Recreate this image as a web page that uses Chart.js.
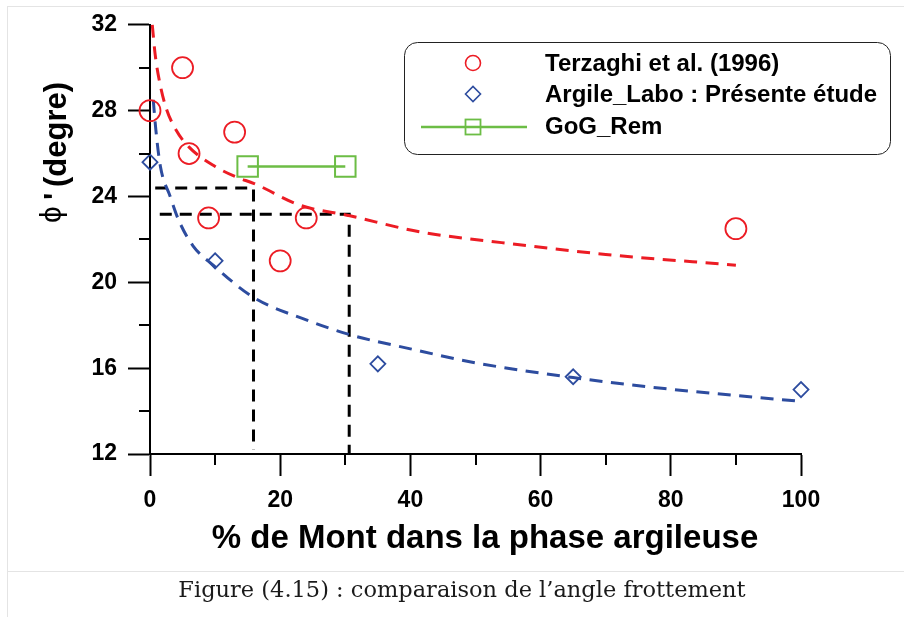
<!DOCTYPE html>
<html>
<head>
<meta charset="utf-8">
<title>Angle de frottement</title>
<script src="https://cdn.jsdelivr.net/npm/chart.js@4.4.0/dist/chart.umd.min.js"></script>
<style>
  html, body { margin: 0; padding: 0; background: #fff; }
  #wrap { position: relative; width: 904px; height: 617px; overflow: hidden; }
  #frame { position: absolute; left: 7px; top: 6px; right: -2px; bottom: -2px; border-left: 1px solid #e4e4e4; border-top: 1px solid #e4e4e4; }
  #rule { position: absolute; left: 7px; right: 0; top: 571px; border-top: 1px solid #e4e4e4; }
  #chart { position: absolute; left: 0; top: 0; }
  #caption { position: absolute; left: 0; width: 924px; top: 574px; line-height: 30px; text-align: center;
             font-family: "DejaVu Serif", serif; font-size: 22.5px; color: #1a1a1a; }
</style>
</head>
<body>
<div id="wrap">
  <div id="frame"></div>
  <div id="rule"></div>
  <canvas id="chart" width="904" height="617"></canvas>
  <div id="caption">Figure (4.15) : comparaison de l’angle frottement</div>
</div>
<script>
// measured points
const terzX = [0, 5, 6, 13, 9, 20, 24, 90];
const terzY = [28, 30, 26, 27, 23, 21, 23, 22.5];
const labX = [0, 10, 35, 65, 100];
const labY = [25.6, 21, 16.2, 15.6, 15];
const gogX = [15, 30];
const gogY = [25.4, 25.4];

// fitted trend curves
const terzFitX = [0.35, 0.8, 1.5, 2.5, 4, 6, 10, 13.3, 16, 23, 30.7, 41.5, 54, 70, 90];
const terzFitY = [32, 30.6, 29.3, 28.1, 27.1, 26.3, 25.4, 24.9, 24.6, 23.6, 23.1, 22.35, 21.85, 21.3, 20.8];
const labFitX = [0.5, 0.9, 1.6, 3.1, 4.4, 6.6, 9.7, 15.9, 24, 30.7, 40, 50, 65, 79, 100];
const labFitY = [28.5, 27.1, 25.4, 24.0, 22.9, 21.7, 20.8, 19.3, 18.25, 17.56, 16.9, 16.25, 15.56, 15.05, 14.45];

// read-off guide lines
const guideAX = [0.8, 15.9, 15.9];
const guideAY = [24.4, 24.4, 12.2];
const guideBX = [1.5, 30.6, 30.6];
const guideBY = [23.17, 23.17, 12.05];

const minorXTicks = [10, 30, 50, 70, 90];
const minorYTicks = [14, 18, 22, 26, 30];

const RED = '#ec1c24';
const BLUE = '#2d4c9f';
const GREEN = '#6cbd45';

const toPoints = (xs, ys) => xs.map((x, i) => ({ x: x, y: ys[i] }));

// minor ticks, axis titles and the boxed legend
const decorPlugin = {
  id: 'decor',
  afterDraw(chart) {
    const { ctx, scales: { x, y } } = chart;
    ctx.save();
    ctx.strokeStyle = '#000';
    ctx.lineWidth = 2;
    minorYTicks.forEach(v => {
      const py = Math.round(y.getPixelForValue(v));
      ctx.beginPath();
      ctx.moveTo(x.left - 11, py);
      ctx.lineTo(x.left, py);
      ctx.stroke();
    });
    minorXTicks.forEach(v => {
      const px = Math.round(x.getPixelForValue(v));
      ctx.beginPath();
      ctx.moveTo(px, y.bottom);
      ctx.lineTo(px, y.bottom + 11);
      ctx.stroke();
    });

    // x title
    ctx.fillStyle = '#000';
    ctx.font = 'bold 33px "Liberation Sans", Arial, sans-serif';
    ctx.textAlign = 'center';
    ctx.textBaseline = 'alphabetic';
    ctx.fillText('% de Mont dans la phase argileuse', 485, 548);

    // y title, rotated
    ctx.save();
    ctx.translate(66, 223);
    ctx.rotate(-Math.PI / 2);
    ctx.textAlign = 'left';
    ctx.font = '30px "Liberation Sans", "DejaVu Sans", sans-serif';
    ctx.fillText('ϕ', 0, -5);
    ctx.font = 'bold 31px "Liberation Sans", Arial, sans-serif';
    ctx.fillText("'", 23, 0);
    ctx.fillText('(degre)', 36, 0);
    ctx.restore();

    // legend
    ctx.lineWidth = 1;
    ctx.strokeStyle = '#222';
    ctx.beginPath();
    ctx.roundRect(404.5, 42.5, 486, 112, 13);
    ctx.stroke();

    const ds = chart.data.datasets;
    ctx.lineWidth = 1.6;
    ctx.strokeStyle = ds[0].borderColor;
    ctx.beginPath();
    ctx.arc(473, 63, 7.5, 0, Math.PI * 2);
    ctx.stroke();

    ctx.strokeStyle = ds[1].borderColor;
    ctx.beginPath();
    ctx.moveTo(473 - 7.5, 94);
    ctx.lineTo(473, 94 - 7.5);
    ctx.lineTo(473 + 7.5, 94);
    ctx.lineTo(473, 94 + 7.5);
    ctx.closePath();
    ctx.stroke();

    ctx.strokeStyle = ds[2].borderColor;
    ctx.lineWidth = 2.5;
    ctx.beginPath();
    ctx.moveTo(421, 127);
    ctx.lineTo(527, 127);
    ctx.stroke();
    ctx.lineWidth = 1.8;
    ctx.strokeRect(465.5, 119.5, 15, 15);

    ctx.fillStyle = '#000';
    ctx.font = 'bold 24px "Liberation Sans", Arial, sans-serif';
    ctx.textAlign = 'left';
    ctx.textBaseline = 'middle';
    ctx.fillText(ds[0].label, 545, 64);
    ctx.fillText(ds[1].label, 545, 95);
    ctx.fillText(ds[2].label, 545, 127);
    ctx.restore();
  }
};

const tickFont = { family: '"Liberation Sans", Arial, sans-serif', size: 23, weight: 'bold' };

const ctx = document.getElementById('chart').getContext('2d');
const chart = new Chart(ctx, {
  type: 'scatter',
  data: {
    datasets: [
      {
        label: 'Terzaghi et al. (1996)',
        data: toPoints(terzX, terzY),
        pointStyle: 'circle',
        pointRadius: 10.5,
        borderColor: RED,
        backgroundColor: 'rgba(0,0,0,0)',
        borderWidth: 1.8,
        showLine: false,
        clip: false
      },
      {
        label: 'Argile_Labo : Présente étude',
        data: toPoints(labX, labY),
        pointStyle: 'rectRot',
        pointRadius: 7.5,
        borderColor: BLUE,
        backgroundColor: 'rgba(0,0,0,0)',
        borderWidth: 1.8,
        showLine: false,
        clip: false
      },
      {
        label: 'GoG_Rem',
        data: toPoints(gogX, gogY),
        pointStyle: 'rect',
        pointRadius: 14.5,
        borderColor: GREEN,
        backgroundColor: 'rgba(0,0,0,0)',
        pointBorderWidth: 2,
        borderWidth: 2.5,
        showLine: true,
        clip: false
      },
      {
        label: 'fit Terzaghi',
        data: toPoints(terzFitX, terzFitY),
        showLine: true,
        pointRadius: 0,
        borderColor: RED,
        borderWidth: 3,
        borderDash: [13, 8.5],
        cubicInterpolationMode: 'monotone',
        clip: false
      },
      {
        label: 'fit Argile_Labo',
        data: toPoints(labFitX, labFitY),
        showLine: true,
        pointRadius: 0,
        borderColor: BLUE,
        borderWidth: 3,
        borderDash: [13, 8.5],
        cubicInterpolationMode: 'monotone',
        clip: false
      },
      {
        label: 'guide A',
        data: toPoints(guideAX, guideAY),
        showLine: true,
        pointRadius: 0,
        borderColor: '#000',
        borderWidth: 3,
        borderDash: [12, 8]
      },
      {
        label: 'guide B',
        data: toPoints(guideBX, guideBY),
        showLine: true,
        pointRadius: 0,
        borderColor: '#000',
        borderWidth: 3,
        borderDash: [12, 8]
      }
    ]
  },
  options: {
    responsive: false,
    animation: false,
    events: [],
    layout: { padding: { top: 20, right: 103, bottom: 60, left: 0 } },
    plugins: {
      legend: { display: false },
      tooltip: { enabled: false }
    },
    scales: {
      x: {
        type: 'linear',
        min: 0,
        max: 100,
        ticks: { stepSize: 20, color: '#000', font: tickFont, padding: 11, maxRotation: 0 },
        grid: { drawOnChartArea: false, tickLength: 22, tickWidth: 2, tickColor: '#000' },
        border: { color: '#000', width: 2 },
        afterFit: s => { s.height = 103; }
      },
      y: {
        type: 'linear',
        min: 12,
        max: 32,
        ticks: { stepSize: 4, color: '#000', font: tickFont, padding: 11 },
        grid: { drawOnChartArea: false, tickLength: 22, tickWidth: 2, tickColor: '#000' },
        border: { color: '#000', width: 2 },
        afterFit: s => { s.width = 150; }
      }
    }
  },
  plugins: [decorPlugin]
});
</script>
</body>
</html>
